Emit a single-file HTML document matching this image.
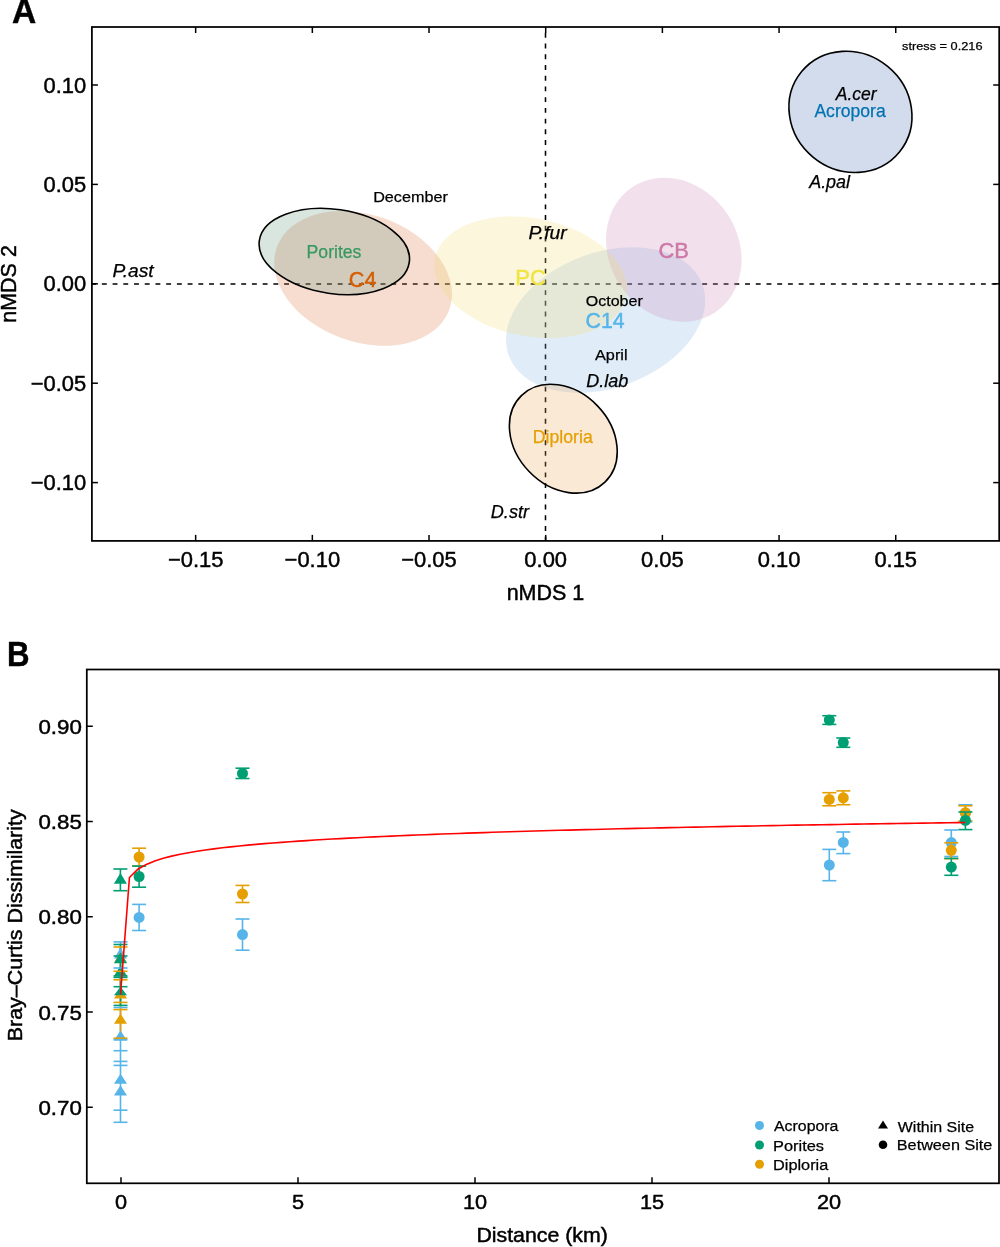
<!DOCTYPE html><html><head><meta charset="utf-8"><style>html,body{margin:0;padding:0;background:#fff;width:1000px;height:1247px;overflow:hidden}</style></head><body><svg width="1000" height="1247" viewBox="0 0 1000 1247" style="display:block;will-change:transform;font-family:'Liberation Sans',sans-serif">
<rect width="1000" height="1247" fill="#fff"/>
<line x1="91.9" y1="284" x2="999.2" y2="284" stroke="#000" stroke-width="1.6" stroke-dasharray="4.9 5.82" stroke-dashoffset="0.75"/>
<line x1="545.5" y1="27" x2="545.5" y2="540.9" stroke="#000" stroke-width="1.55" stroke-dasharray="4.9 5.82" stroke-dashoffset="4.85"/>
<ellipse cx="605.60" cy="320.00" rx="103.16" ry="67.65" transform="rotate(159.81 605.60 320.00)" fill="#83b7e3" fill-opacity="0.25"/>
<ellipse cx="363.10" cy="278.35" rx="91.71" ry="63.58" transform="rotate(-160.07 363.10 278.35)" fill="#db7743" fill-opacity="0.25"/>
<ellipse cx="673.80" cy="249.70" rx="75.04" ry="64.42" transform="rotate(56.68 673.80 249.70)" fill="#cb87b3" fill-opacity="0.25"/>
<ellipse cx="530.60" cy="277.25" rx="97.57" ry="58.95" transform="rotate(-168.82 530.60 277.25)" fill="#f3db73" fill-opacity="0.25"/>
<ellipse cx="850.45" cy="111.85" rx="63.27" ry="58.75" transform="rotate(-140.75 850.45 111.85)" fill="#4f73b3" fill-opacity="0.25"/>
<ellipse cx="563.30" cy="438.70" rx="60.13" ry="47.42" transform="rotate(46.14 563.30 438.70)" fill="#eda657" fill-opacity="0.25"/>
<ellipse cx="334.30" cy="251.50" rx="75.75" ry="42.12" transform="rotate(-171.67 334.30 251.50)" fill="#67977f" fill-opacity="0.25"/>
<ellipse cx="334.30" cy="251.50" rx="75.75" ry="42.12" transform="rotate(-171.67 334.30 251.50)" fill="none" stroke="#000" stroke-width="1.6"/>
<ellipse cx="850.45" cy="111.85" rx="63.27" ry="58.75" transform="rotate(-140.75 850.45 111.85)" fill="none" stroke="#000" stroke-width="1.6"/>
<ellipse cx="563.30" cy="438.70" rx="60.13" ry="47.42" transform="rotate(46.14 563.30 438.70)" fill="none" stroke="#000" stroke-width="1.6"/>
<rect x="91.9" y="27" width="907.3000000000001" height="513.9" fill="none" stroke="#000" stroke-width="1.75"/>
<line x1="195.66" y1="540.9" x2="195.66" y2="534.9" stroke="#000" stroke-width="1.5"/>
<line x1="195.66" y1="27" x2="195.66" y2="33" stroke="#000" stroke-width="1.5"/>
<text x="195.66" y="567" font-size="21.5" text-anchor="middle" fill="#000" stroke="#000" stroke-width="0.45" textLength="55.49" lengthAdjust="spacingAndGlyphs">−0.15</text>
<line x1="312.34" y1="540.9" x2="312.34" y2="534.9" stroke="#000" stroke-width="1.5"/>
<line x1="312.34" y1="27" x2="312.34" y2="33" stroke="#000" stroke-width="1.5"/>
<text x="312.34" y="567" font-size="21.5" text-anchor="middle" fill="#000" stroke="#000" stroke-width="0.45" textLength="55.49" lengthAdjust="spacingAndGlyphs">−0.10</text>
<line x1="429.02" y1="540.9" x2="429.02" y2="534.9" stroke="#000" stroke-width="1.5"/>
<line x1="429.02" y1="27" x2="429.02" y2="33" stroke="#000" stroke-width="1.5"/>
<text x="429.02" y="567" font-size="21.5" text-anchor="middle" fill="#000" stroke="#000" stroke-width="0.45" textLength="55.49" lengthAdjust="spacingAndGlyphs">−0.05</text>
<line x1="545.70" y1="540.9" x2="545.70" y2="534.9" stroke="#000" stroke-width="1.5"/>
<line x1="545.70" y1="27" x2="545.70" y2="33" stroke="#000" stroke-width="1.5"/>
<text x="545.70" y="567" font-size="21.5" text-anchor="middle" fill="#000" stroke="#000" stroke-width="0.45" textLength="42.68" lengthAdjust="spacingAndGlyphs">0.00</text>
<line x1="662.38" y1="540.9" x2="662.38" y2="534.9" stroke="#000" stroke-width="1.5"/>
<line x1="662.38" y1="27" x2="662.38" y2="33" stroke="#000" stroke-width="1.5"/>
<text x="662.38" y="567" font-size="21.5" text-anchor="middle" fill="#000" stroke="#000" stroke-width="0.45" textLength="42.68" lengthAdjust="spacingAndGlyphs">0.05</text>
<line x1="779.06" y1="540.9" x2="779.06" y2="534.9" stroke="#000" stroke-width="1.5"/>
<line x1="779.06" y1="27" x2="779.06" y2="33" stroke="#000" stroke-width="1.5"/>
<text x="779.06" y="567" font-size="21.5" text-anchor="middle" fill="#000" stroke="#000" stroke-width="0.45" textLength="42.68" lengthAdjust="spacingAndGlyphs">0.10</text>
<line x1="895.74" y1="540.9" x2="895.74" y2="534.9" stroke="#000" stroke-width="1.5"/>
<line x1="895.74" y1="27" x2="895.74" y2="33" stroke="#000" stroke-width="1.5"/>
<text x="895.74" y="567" font-size="21.5" text-anchor="middle" fill="#000" stroke="#000" stroke-width="0.45" textLength="42.68" lengthAdjust="spacingAndGlyphs">0.15</text>
<line x1="91.9" y1="482.60" x2="97.9" y2="482.60" stroke="#000" stroke-width="1.5"/>
<line x1="999.2" y1="482.60" x2="993.2" y2="482.60" stroke="#000" stroke-width="1.5"/>
<text x="86.2" y="490.20" font-size="21.5" text-anchor="end" fill="#000" stroke="#000" stroke-width="0.45" textLength="55.49" lengthAdjust="spacingAndGlyphs">−0.10</text>
<line x1="91.9" y1="383.20" x2="97.9" y2="383.20" stroke="#000" stroke-width="1.5"/>
<line x1="999.2" y1="383.20" x2="993.2" y2="383.20" stroke="#000" stroke-width="1.5"/>
<text x="86.2" y="390.80" font-size="21.5" text-anchor="end" fill="#000" stroke="#000" stroke-width="0.45" textLength="55.49" lengthAdjust="spacingAndGlyphs">−0.05</text>
<line x1="91.9" y1="283.80" x2="97.9" y2="283.80" stroke="#000" stroke-width="1.5"/>
<line x1="999.2" y1="283.80" x2="993.2" y2="283.80" stroke="#000" stroke-width="1.5"/>
<text x="86.2" y="291.40" font-size="21.5" text-anchor="end" fill="#000" stroke="#000" stroke-width="0.45" textLength="42.68" lengthAdjust="spacingAndGlyphs">0.00</text>
<line x1="91.9" y1="184.40" x2="97.9" y2="184.40" stroke="#000" stroke-width="1.5"/>
<line x1="999.2" y1="184.40" x2="993.2" y2="184.40" stroke="#000" stroke-width="1.5"/>
<text x="86.2" y="192.00" font-size="21.5" text-anchor="end" fill="#000" stroke="#000" stroke-width="0.45" textLength="42.68" lengthAdjust="spacingAndGlyphs">0.05</text>
<line x1="91.9" y1="85.00" x2="97.9" y2="85.00" stroke="#000" stroke-width="1.5"/>
<line x1="999.2" y1="85.00" x2="993.2" y2="85.00" stroke="#000" stroke-width="1.5"/>
<text x="86.2" y="92.60" font-size="21.5" text-anchor="end" fill="#000" stroke="#000" stroke-width="0.45" textLength="42.68" lengthAdjust="spacingAndGlyphs">0.10</text>
<text x="545.5" y="600.2" font-size="21.5" text-anchor="middle" fill="#000" stroke="#000" stroke-width="0.45" >nMDS 1</text>
<text transform="translate(15.5 284) rotate(-90)" font-size="21.5" text-anchor="middle" stroke="#000" stroke-width="0.45">nMDS 2</text>
<text x="12.00" y="23" font-size="34.30" fill="#000" stroke="#000" stroke-width="0.45" font-weight="bold" textLength="24.25" lengthAdjust="spacingAndGlyphs">A</text>
<text x="902.00" y="50.2" font-size="11.78" fill="#000" stroke="#000" stroke-width="0.25" textLength="80.53" lengthAdjust="spacingAndGlyphs">stress = 0.216</text>
<text x="814.40" y="116.5" font-size="17.90" fill="#0072B2" stroke="#0072B2" stroke-width="0.25" textLength="71.35" lengthAdjust="spacingAndGlyphs">Acropora</text>
<text x="835.80" y="100" font-size="17.50" fill="#000" stroke="#000" stroke-width="0.25" font-style="italic" textLength="40.85" lengthAdjust="spacingAndGlyphs">A.cer</text>
<text x="809.20" y="188.1" font-size="17.50" fill="#000" stroke="#000" stroke-width="0.25" font-style="italic" textLength="40.86" lengthAdjust="spacingAndGlyphs">A.pal</text>
<text x="306.60" y="258" font-size="17.90" fill="#379862" stroke="#379862" stroke-width="0.25" textLength="54.80" lengthAdjust="spacingAndGlyphs">Porites</text>
<text x="348.80" y="286.7" font-size="21.70" fill="#D55E00" stroke="#D55E00" stroke-width="0.45" textLength="27.68" lengthAdjust="spacingAndGlyphs">C4</text>
<text x="373.20" y="201.6" font-size="15.30" fill="#000" stroke="#000" stroke-width="0.25" textLength="74.62" lengthAdjust="spacingAndGlyphs">December</text>
<text x="112.40" y="276.8" font-size="17.50" fill="#000" stroke="#000" stroke-width="0.25" font-style="italic" textLength="41.25" lengthAdjust="spacingAndGlyphs">P.ast</text>
<text x="515.20" y="284.5" font-size="21.70" fill="#F0E442" stroke="#F0E442" stroke-width="0.45" textLength="30.64" lengthAdjust="spacingAndGlyphs">PC</text>
<text x="528.40" y="238.5" font-size="17.50" fill="#000" stroke="#000" stroke-width="0.25" font-style="italic" textLength="38.25" lengthAdjust="spacingAndGlyphs">P.fur</text>
<text x="658.40" y="257.8" font-size="21.70" fill="#CC79A7" stroke="#CC79A7" stroke-width="0.45" textLength="30.37" lengthAdjust="spacingAndGlyphs">CB</text>
<text x="585.80" y="306" font-size="15.30" fill="#000" stroke="#000" stroke-width="0.25" textLength="56.93" lengthAdjust="spacingAndGlyphs">October</text>
<text x="585.60" y="328.1" font-size="21.70" fill="#56B4E9" stroke="#56B4E9" stroke-width="0.45" textLength="39.04" lengthAdjust="spacingAndGlyphs">C14</text>
<text x="595.00" y="359.7" font-size="15.30" fill="#000" stroke="#000" stroke-width="0.25" textLength="32.55" lengthAdjust="spacingAndGlyphs">April</text>
<text x="586.20" y="386.6" font-size="17.50" fill="#000" stroke="#000" stroke-width="0.25" font-style="italic" textLength="42.04" lengthAdjust="spacingAndGlyphs">D.lab</text>
<text x="532.80" y="443.1" font-size="17.90" fill="#E69F00" stroke="#E69F00" stroke-width="0.25" textLength="59.95" lengthAdjust="spacingAndGlyphs">Diploria</text>
<text x="490.80" y="517.5" font-size="17.50" fill="#000" stroke="#000" stroke-width="0.25" font-style="italic" textLength="38.20" lengthAdjust="spacingAndGlyphs">D.str</text>
<rect x="86.8" y="669.5" width="912.2" height="513.8" fill="none" stroke="#000" stroke-width="1.75"/>
<line x1="121.00" y1="1183.3" x2="121.00" y2="1177.3" stroke="#000" stroke-width="1.5"/>
<text x="121.00" y="1208.9" font-size="20.3" text-anchor="middle" fill="#000" stroke="#000" stroke-width="0.45" textLength="12.08" lengthAdjust="spacingAndGlyphs">0</text>
<line x1="298.00" y1="1183.3" x2="298.00" y2="1177.3" stroke="#000" stroke-width="1.5"/>
<text x="298.00" y="1208.9" font-size="20.3" text-anchor="middle" fill="#000" stroke="#000" stroke-width="0.45" textLength="12.08" lengthAdjust="spacingAndGlyphs">5</text>
<line x1="475.00" y1="1183.3" x2="475.00" y2="1177.3" stroke="#000" stroke-width="1.5"/>
<text x="475.00" y="1208.9" font-size="20.3" text-anchor="middle" fill="#000" stroke="#000" stroke-width="0.45" textLength="24.16" lengthAdjust="spacingAndGlyphs">10</text>
<line x1="652.00" y1="1183.3" x2="652.00" y2="1177.3" stroke="#000" stroke-width="1.5"/>
<text x="652.00" y="1208.9" font-size="20.3" text-anchor="middle" fill="#000" stroke="#000" stroke-width="0.45" textLength="24.16" lengthAdjust="spacingAndGlyphs">15</text>
<line x1="829.00" y1="1183.3" x2="829.00" y2="1177.3" stroke="#000" stroke-width="1.5"/>
<text x="829.00" y="1208.9" font-size="20.3" text-anchor="middle" fill="#000" stroke="#000" stroke-width="0.45" textLength="24.16" lengthAdjust="spacingAndGlyphs">20</text>
<line x1="86.8" y1="1107.25" x2="92.8" y2="1107.25" stroke="#000" stroke-width="1.5"/>
<text x="81.8" y="1114.75" font-size="20.3" text-anchor="end" fill="#000" stroke="#000" stroke-width="0.45" textLength="43.4" lengthAdjust="spacingAndGlyphs">0.70</text>
<line x1="86.8" y1="1012.00" x2="92.8" y2="1012.00" stroke="#000" stroke-width="1.5"/>
<text x="81.8" y="1019.50" font-size="20.3" text-anchor="end" fill="#000" stroke="#000" stroke-width="0.45" textLength="43.4" lengthAdjust="spacingAndGlyphs">0.75</text>
<line x1="86.8" y1="916.75" x2="92.8" y2="916.75" stroke="#000" stroke-width="1.5"/>
<text x="81.8" y="924.25" font-size="20.3" text-anchor="end" fill="#000" stroke="#000" stroke-width="0.45" textLength="43.4" lengthAdjust="spacingAndGlyphs">0.80</text>
<line x1="86.8" y1="821.50" x2="92.8" y2="821.50" stroke="#000" stroke-width="1.5"/>
<text x="81.8" y="829.00" font-size="20.3" text-anchor="end" fill="#000" stroke="#000" stroke-width="0.45" textLength="43.4" lengthAdjust="spacingAndGlyphs">0.85</text>
<line x1="86.8" y1="726.25" x2="92.8" y2="726.25" stroke="#000" stroke-width="1.5"/>
<text x="81.8" y="733.75" font-size="20.3" text-anchor="end" fill="#000" stroke="#000" stroke-width="0.45" textLength="43.4" lengthAdjust="spacingAndGlyphs">0.90</text>
<text x="476.40" y="1242" font-size="19.35" fill="#000" stroke="#000" stroke-width="0.45" textLength="131.44" lengthAdjust="spacingAndGlyphs">Distance (km)</text>
<text transform="translate(22.4 925.3) rotate(-90)" font-size="19.5" text-anchor="middle" stroke="#000" stroke-width="0.45" textLength="231.90" lengthAdjust="spacingAndGlyphs">Bray–Curtis Dissimilarity</text>
<text x="7.00" y="665.75" font-size="34.30" fill="#000" stroke="#000" stroke-width="0.45" font-weight="bold" textLength="22.55" lengthAdjust="spacingAndGlyphs">B</text>
<line x1="120.5" y1="941.9" x2="120.5" y2="1122.3" stroke="#56B4E9" stroke-width="1.6"/>
<line x1="120.5" y1="947" x2="120.5" y2="1038.2" stroke="#E69F00" stroke-width="1.6"/>
<line x1="120.5" y1="944.5" x2="120.5" y2="1005.4" stroke="#009E73" stroke-width="1.6"/>
<polygon points="120.5,948 127.0,958.5 114.0,958.5" fill="#56B4E9"/>
<polygon points="120.5,1073.8 127.0,1083.8 114.0,1083.8" fill="#56B4E9"/>
<polygon points="120.5,1085.3 127.0,1095.5 114.0,1095.5" fill="#56B4E9"/>
<polygon points="120.5,1030.4 127.0,1040.5 114.0,1040.5" fill="#56B4E9"/>
<polygon points="120.5,952 127.0,962.7 114.0,962.7" fill="#E69F00"/>
<polygon points="120.5,988 127.0,998.5 114.0,998.5" fill="#E69F00"/>
<polygon points="120.5,1013.5 127.0,1023.8 114.0,1023.8" fill="#E69F00"/>
<polygon points="120.5,952.5 127.0,963.3 114.0,963.3" fill="#009E73"/>
<polygon points="120.5,965.5 127.0,976 114.0,976" fill="#009E73"/>
<polygon points="120.5,986.7 127.0,995.2 114.0,995.2" fill="#009E73"/>
<line x1="113.5" y1="941.9" x2="127.5" y2="941.9" stroke="#56B4E9" stroke-width="1.6"/>
<line x1="113.5" y1="944.5" x2="127.5" y2="944.5" stroke="#009E73" stroke-width="1.6"/>
<line x1="113.5" y1="947" x2="127.5" y2="947" stroke="#E69F00" stroke-width="1.6"/>
<line x1="113.5" y1="956" x2="127.5" y2="956" stroke="#009E73" stroke-width="1.6"/>
<line x1="113.5" y1="968" x2="127.5" y2="968" stroke="#56B4E9" stroke-width="1.6"/>
<line x1="113.5" y1="971.3" x2="127.5" y2="971.3" stroke="#E69F00" stroke-width="1.6"/>
<line x1="113.5" y1="976" x2="127.5" y2="976" stroke="#009E73" stroke-width="1.6"/>
<line x1="113.5" y1="977.4" x2="127.5" y2="977.4" stroke="#009E73" stroke-width="1.6"/>
<line x1="113.5" y1="979.8" x2="127.5" y2="979.8" stroke="#E69F00" stroke-width="1.6"/>
<line x1="113.5" y1="986.7" x2="127.5" y2="986.7" stroke="#009E73" stroke-width="1.6"/>
<line x1="113.5" y1="1002.4" x2="127.5" y2="1002.4" stroke="#E69F00" stroke-width="1.6"/>
<line x1="113.5" y1="1005.4" x2="127.5" y2="1005.4" stroke="#009E73" stroke-width="1.6"/>
<line x1="113.5" y1="1007.5" x2="127.5" y2="1007.5" stroke="#56B4E9" stroke-width="1.6"/>
<line x1="113.5" y1="1009.6" x2="127.5" y2="1009.6" stroke="#E69F00" stroke-width="1.6"/>
<line x1="113.5" y1="1038.2" x2="127.5" y2="1038.2" stroke="#E69F00" stroke-width="1.6"/>
<line x1="113.5" y1="1039.7" x2="127.5" y2="1039.7" stroke="#56B4E9" stroke-width="1.6"/>
<line x1="113.5" y1="1050.7" x2="127.5" y2="1050.7" stroke="#56B4E9" stroke-width="1.6"/>
<line x1="113.5" y1="1061.4" x2="127.5" y2="1061.4" stroke="#56B4E9" stroke-width="1.6"/>
<line x1="113.5" y1="1065.4" x2="127.5" y2="1065.4" stroke="#56B4E9" stroke-width="1.6"/>
<line x1="113.5" y1="1110.2" x2="127.5" y2="1110.2" stroke="#56B4E9" stroke-width="1.6"/>
<line x1="113.5" y1="1122.3" x2="127.5" y2="1122.3" stroke="#56B4E9" stroke-width="1.6"/>
<line x1="120.4" y1="869" x2="120.4" y2="890.7" stroke="#009E73" stroke-width="1.6"/><line x1="113.4" y1="869" x2="127.4" y2="869" stroke="#009E73" stroke-width="1.6"/><line x1="113.4" y1="890.7" x2="127.4" y2="890.7" stroke="#009E73" stroke-width="1.6"/>
<polygon points="120.4,872.9 126.9,883.7 113.9,883.7" fill="#009E73"/>
<line x1="139.1" y1="848.2" x2="139.1" y2="866" stroke="#E69F00" stroke-width="1.6"/><line x1="132.1" y1="848.2" x2="146.1" y2="848.2" stroke="#E69F00" stroke-width="1.6"/><line x1="132.1" y1="866" x2="146.1" y2="866" stroke="#E69F00" stroke-width="1.6"/>
<circle cx="139.1" cy="857" r="5.5" fill="#E69F00"/>
<line x1="139.1" y1="866.1" x2="139.1" y2="887.2" stroke="#009E73" stroke-width="1.6"/><line x1="132.1" y1="866.1" x2="146.1" y2="866.1" stroke="#009E73" stroke-width="1.6"/><line x1="132.1" y1="887.2" x2="146.1" y2="887.2" stroke="#009E73" stroke-width="1.6"/>
<circle cx="139.1" cy="876.5" r="5.5" fill="#009E73"/>
<line x1="139.1" y1="904.4" x2="139.1" y2="930.5" stroke="#56B4E9" stroke-width="1.6"/><line x1="132.1" y1="904.4" x2="146.1" y2="904.4" stroke="#56B4E9" stroke-width="1.6"/><line x1="132.1" y1="930.5" x2="146.1" y2="930.5" stroke="#56B4E9" stroke-width="1.6"/>
<circle cx="139.1" cy="917.4" r="5.5" fill="#56B4E9"/>
<line x1="242.5" y1="768.2" x2="242.5" y2="778.5" stroke="#009E73" stroke-width="1.6"/><line x1="235.5" y1="768.2" x2="249.5" y2="768.2" stroke="#009E73" stroke-width="1.6"/><line x1="235.5" y1="778.5" x2="249.5" y2="778.5" stroke="#009E73" stroke-width="1.6"/>
<circle cx="242.5" cy="773.4" r="5.5" fill="#009E73"/>
<line x1="242.5" y1="885.4" x2="242.5" y2="902.5" stroke="#E69F00" stroke-width="1.6"/><line x1="235.5" y1="885.4" x2="249.5" y2="885.4" stroke="#E69F00" stroke-width="1.6"/><line x1="235.5" y1="902.5" x2="249.5" y2="902.5" stroke="#E69F00" stroke-width="1.6"/>
<circle cx="242.5" cy="894" r="5.5" fill="#E69F00"/>
<line x1="242.5" y1="919" x2="242.5" y2="950.2" stroke="#56B4E9" stroke-width="1.6"/><line x1="235.5" y1="919" x2="249.5" y2="919" stroke="#56B4E9" stroke-width="1.6"/><line x1="235.5" y1="950.2" x2="249.5" y2="950.2" stroke="#56B4E9" stroke-width="1.6"/>
<circle cx="242.5" cy="934.6" r="5.5" fill="#56B4E9"/>
<line x1="829.3" y1="715.7" x2="829.3" y2="724.4" stroke="#009E73" stroke-width="1.6"/><line x1="822.3" y1="715.7" x2="836.3" y2="715.7" stroke="#009E73" stroke-width="1.6"/><line x1="822.3" y1="724.4" x2="836.3" y2="724.4" stroke="#009E73" stroke-width="1.6"/>
<circle cx="829.3" cy="720" r="5.5" fill="#009E73"/>
<line x1="843.3" y1="738" x2="843.3" y2="747.3" stroke="#009E73" stroke-width="1.6"/><line x1="836.3" y1="738" x2="850.3" y2="738" stroke="#009E73" stroke-width="1.6"/><line x1="836.3" y1="747.3" x2="850.3" y2="747.3" stroke="#009E73" stroke-width="1.6"/>
<circle cx="843.3" cy="742.5" r="5.5" fill="#009E73"/>
<line x1="829.3" y1="792.7" x2="829.3" y2="805.8" stroke="#E69F00" stroke-width="1.6"/><line x1="822.3" y1="792.7" x2="836.3" y2="792.7" stroke="#E69F00" stroke-width="1.6"/><line x1="822.3" y1="805.8" x2="836.3" y2="805.8" stroke="#E69F00" stroke-width="1.6"/>
<circle cx="829.3" cy="799.4" r="5.5" fill="#E69F00"/>
<line x1="843.3" y1="790.9" x2="843.3" y2="804.7" stroke="#E69F00" stroke-width="1.6"/><line x1="836.3" y1="790.9" x2="850.3" y2="790.9" stroke="#E69F00" stroke-width="1.6"/><line x1="836.3" y1="804.7" x2="850.3" y2="804.7" stroke="#E69F00" stroke-width="1.6"/>
<circle cx="843.3" cy="797.8" r="5.5" fill="#E69F00"/>
<line x1="829.3" y1="849.4" x2="829.3" y2="880.7" stroke="#56B4E9" stroke-width="1.6"/><line x1="822.3" y1="849.4" x2="836.3" y2="849.4" stroke="#56B4E9" stroke-width="1.6"/><line x1="822.3" y1="880.7" x2="836.3" y2="880.7" stroke="#56B4E9" stroke-width="1.6"/>
<circle cx="829.3" cy="865.1" r="5.5" fill="#56B4E9"/>
<line x1="843.3" y1="832" x2="843.3" y2="853.6" stroke="#56B4E9" stroke-width="1.6"/><line x1="836.3" y1="832" x2="850.3" y2="832" stroke="#56B4E9" stroke-width="1.6"/><line x1="836.3" y1="853.6" x2="850.3" y2="853.6" stroke="#56B4E9" stroke-width="1.6"/>
<circle cx="843.3" cy="842.4" r="5.5" fill="#56B4E9"/>
<line x1="951.3" y1="830" x2="951.3" y2="856.5" stroke="#56B4E9" stroke-width="1.6"/><line x1="944.3" y1="830" x2="958.3" y2="830" stroke="#56B4E9" stroke-width="1.6"/><line x1="944.3" y1="856.5" x2="958.3" y2="856.5" stroke="#56B4E9" stroke-width="1.6"/>
<circle cx="951.3" cy="842.6" r="5.5" fill="#56B4E9"/>
<line x1="951.3" y1="842.8" x2="951.3" y2="858.7" stroke="#E69F00" stroke-width="1.6"/><line x1="944.3" y1="842.8" x2="958.3" y2="842.8" stroke="#E69F00" stroke-width="1.6"/><line x1="944.3" y1="858.7" x2="958.3" y2="858.7" stroke="#E69F00" stroke-width="1.6"/>
<circle cx="951.3" cy="850.3" r="5.5" fill="#E69F00"/>
<line x1="951.3" y1="858.4" x2="951.3" y2="875.3" stroke="#009E73" stroke-width="1.6"/><line x1="944.3" y1="858.4" x2="958.3" y2="858.4" stroke="#009E73" stroke-width="1.6"/><line x1="944.3" y1="875.3" x2="958.3" y2="875.3" stroke="#009E73" stroke-width="1.6"/>
<circle cx="951.3" cy="867.1" r="5.5" fill="#009E73"/>
<line x1="965.4" y1="804.8" x2="965.4" y2="821.9" stroke="#56B4E9" stroke-width="1.6"/><line x1="958.4" y1="804.8" x2="972.4" y2="804.8" stroke="#56B4E9" stroke-width="1.6"/><line x1="958.4" y1="821.9" x2="972.4" y2="821.9" stroke="#56B4E9" stroke-width="1.6"/>
<circle cx="965.4" cy="813.3" r="5.5" fill="#56B4E9"/>
<line x1="965.4" y1="805.8" x2="965.4" y2="820.9" stroke="#E69F00" stroke-width="1.6"/><line x1="958.4" y1="805.8" x2="972.4" y2="805.8" stroke="#E69F00" stroke-width="1.6"/><line x1="958.4" y1="820.9" x2="972.4" y2="820.9" stroke="#E69F00" stroke-width="1.6"/>
<circle cx="965.4" cy="812.7" r="5.5" fill="#E69F00"/>
<line x1="965.4" y1="812" x2="965.4" y2="829.6" stroke="#009E73" stroke-width="1.6"/><line x1="958.4" y1="812" x2="972.4" y2="812" stroke="#009E73" stroke-width="1.6"/><line x1="958.4" y1="829.6" x2="972.4" y2="829.6" stroke="#009E73" stroke-width="1.6"/>
<circle cx="965.4" cy="820.4" r="5.5" fill="#009E73"/>
<polyline fill="none" stroke="#ff0000" stroke-width="1.6" points="120.50,994.60 129.44,877.53 137.89,869.25 146.33,864.40 154.77,860.96 163.21,858.30 171.66,856.12 180.10,854.28 188.54,852.68 196.99,851.27 205.43,850.01 213.87,848.87 222.31,847.83 230.76,846.88 239.20,845.99 247.64,845.17 256.09,844.40 264.53,843.67 272.97,842.99 281.42,842.34 289.86,841.73 298.30,841.15 306.74,840.59 315.19,840.06 323.63,839.55 332.07,839.06 340.52,838.59 348.96,838.14 357.40,837.71 365.84,837.29 374.29,836.88 382.73,836.49 391.17,836.11 399.62,835.75 408.06,835.39 416.50,835.04 424.94,834.71 433.39,834.38 441.83,834.06 450.27,833.75 458.72,833.45 467.16,833.15 475.60,832.86 484.04,832.58 492.49,832.31 500.93,832.04 509.37,831.78 517.82,831.52 526.26,831.27 534.70,831.02 543.14,830.78 551.59,830.54 560.03,830.31 568.47,830.08 576.92,829.86 585.36,829.64 593.80,829.43 602.25,829.21 610.69,829.01 619.13,828.80 627.57,828.60 636.02,828.40 644.46,828.21 652.90,828.02 661.35,827.83 669.79,827.65 678.23,827.46 686.67,827.28 695.12,827.11 703.56,826.93 712.00,826.76 720.45,826.59 728.89,826.42 737.33,826.26 745.77,826.10 754.22,825.93 762.66,825.78 771.10,825.62 779.55,825.47 787.99,825.31 796.43,825.16 804.87,825.02 813.32,824.87 821.76,824.72 830.20,824.58 838.65,824.44 847.09,824.30 855.53,824.16 863.98,824.02 872.42,823.89 880.86,823.76 889.30,823.62 897.75,823.49 906.19,823.36 914.63,823.24 923.08,823.11 931.52,822.99 939.96,822.86 948.40,822.74 956.85,822.62 965.29,822.50"/>
<circle cx="759.5" cy="1125.5" r="4.5" fill="#56B4E9"/>
<circle cx="759.5" cy="1145" r="4.5" fill="#009E73"/>
<circle cx="759.5" cy="1164.3" r="4.5" fill="#E69F00"/>
<text x="774.00" y="1131.3" font-size="15.40" fill="#000" stroke="#000" stroke-width="0.25" textLength="64.46" lengthAdjust="spacingAndGlyphs">Acropora</text>
<text x="773.00" y="1150.5" font-size="15.40" fill="#000" stroke="#000" stroke-width="0.25" textLength="51.00" lengthAdjust="spacingAndGlyphs">Porites</text>
<text x="773.00" y="1169.8" font-size="15.40" fill="#000" stroke="#000" stroke-width="0.25" textLength="55.31" lengthAdjust="spacingAndGlyphs">Diploria</text>
<polygon points="883,1120.4 888,1128.5 878,1128.5" fill="#000"/>
<circle cx="883" cy="1144.8" r="4.3" fill="#000"/>
<text x="897.80" y="1131.5" font-size="15.40" fill="#000" stroke="#000" stroke-width="0.25" textLength="76.27" lengthAdjust="spacingAndGlyphs">Within Site</text>
<text x="896.80" y="1150.3" font-size="15.40" fill="#000" stroke="#000" stroke-width="0.25" textLength="95.56" lengthAdjust="spacingAndGlyphs">Between Site</text>
</svg></body></html>
